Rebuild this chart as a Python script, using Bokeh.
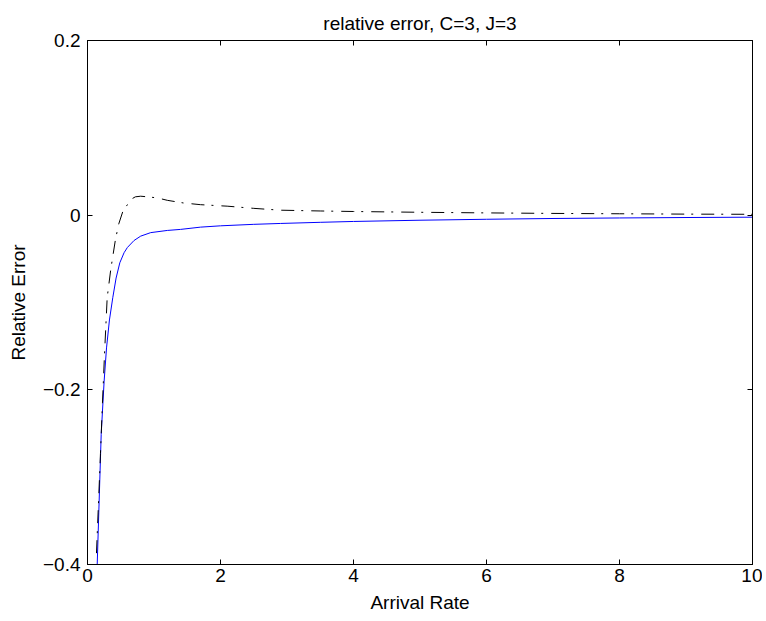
from bokeh.plotting import figure
from bokeh.models import LinearAxis, Range1d, FixedTicker, CustomJSTickFormatter
from bokeh.embed import file_html
from bokeh.resources import INLINE

# data
blue_x = [0.146, 0.17, 0.206, 0.25, 0.286, 0.33, 0.38, 0.43, 0.486, 0.55, 0.6, 0.7,
          0.8, 0.95, 1.2, 1.4, 1.7, 2.0, 2.5, 2.9, 3.5, 4, 5, 6, 7, 8, 9, 10]
blue_y = [-0.40, -0.34, -0.251, -0.19, -0.152, -0.12, -0.0945, -0.072, -0.0545, -0.043,
          -0.037, -0.029, -0.024, -0.020, -0.0175, -0.0163, -0.0137, -0.0122, -0.0105,
          -0.0095, -0.0082, -0.0072, -0.0058, -0.0047, -0.0038, -0.0032, -0.0027, -0.0023]

black_x = [0.135, 0.165, 0.195, 0.225, 0.256, 0.296, 0.35, 0.42, 0.47, 0.53, 0.6, 0.65,
           0.72, 0.8, 0.9, 1.05, 1.2, 1.44, 1.7, 2.1, 2.5, 2.9, 3.5, 4, 5, 6, 7, 8, 9, 10]
black_y = [-0.387, -0.33, -0.273, -0.215, -0.159, -0.0945, -0.062, -0.028, -0.010, 0.004,
           0.012, 0.018, 0.021, 0.0217, 0.021, 0.0198, 0.017, 0.014, 0.012, 0.0103,
           0.0078, 0.0057, 0.0048, 0.0042, 0.0033, 0.0026, 0.0020, 0.0016, 0.0012, 0.0010]

x_ticks = [0, 2, 4, 6, 8, 10]
y_ticks = [-0.4, -0.2, 0, 0.2]

FONT = "Liberation Sans"
FS = "19px"

p = figure(frame_width=665, frame_height=524, output_backend="svg", toolbar_location=None,
           x_range=Range1d(0, 10), y_range=Range1d(-0.4, 0.2),
           min_border_left=87, min_border_top=40, min_border_right=10, min_border_bottom=55,
           title="relative error, C=3, J=3")
p.grid.visible = False
p.outline_line_color = "black"
p.outline_line_width = 1
p.background_fill_color = "white"
p.border_fill_color = "white"

p.title.text_font = FONT
p.title.text_font_size = FS
p.title.text_font_style = "normal"
p.title.align = "center"
p.title.text_color = "black"
p.title.standoff = 14

fmt = CustomJSTickFormatter(code="""
var s = (Math.abs(tick) < 1e-9) ? '0' : String(Math.round(tick*10)/10);
return s.replace('-', '\u2212');
""")
blank = CustomJSTickFormatter(code="return '';")

def style(ax, labels=True):
    ax.axis_line_color = "black"
    ax.major_tick_in = 5
    ax.major_tick_out = 0
    ax.minor_tick_line_color = None
    ax.major_tick_line_color = "black"
    if labels:
        ax.major_label_text_font = FONT
        ax.major_label_text_font_size = FS
        ax.major_label_text_color = "black"
        ax.axis_label_text_font = FONT
        ax.axis_label_text_font_size = FS
        ax.axis_label_text_font_style = "normal"
        ax.axis_label_text_color = "black"
    else:
        ax.formatter = blank
        ax.major_label_standoff = 0

p.xaxis.ticker = FixedTicker(ticks=x_ticks)
p.yaxis.ticker = FixedTicker(ticks=y_ticks)
p.xaxis.formatter = fmt
p.yaxis.formatter = fmt
p.xaxis.axis_label = "Arrival Rate"
p.yaxis.axis_label = "Relative Error"
p.xaxis.major_label_standoff = 4
p.yaxis.major_label_standoff = 7
p.xaxis.axis_label_standoff = 7
p.yaxis.axis_label_standoff = 11
style(p.xaxis[0])
style(p.yaxis[0])

top = LinearAxis(ticker=FixedTicker(ticks=x_ticks))
right = LinearAxis(ticker=FixedTicker(ticks=y_ticks))
style(top, labels=False)
style(right, labels=False)
p.add_layout(top, "above")
p.add_layout(right, "right")

p.line(blue_x, blue_y, line_color="#0000ff", line_width=1)
p.line(black_x, black_y, line_color="black", line_width=1, line_dash="13 7 2 8")

open("out.html", "w").write(file_html(p, INLINE))
